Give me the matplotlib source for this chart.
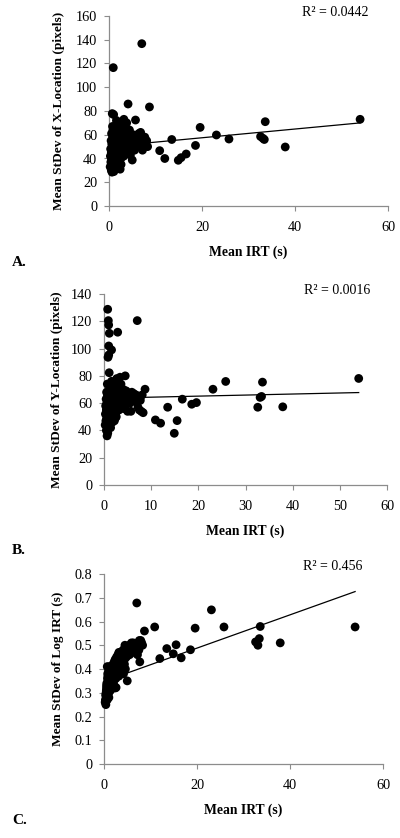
import matplotlib
matplotlib.use("Agg")
import matplotlib.pyplot as plt
import numpy as np

plt.rcParams['font.family'] = ['Liberation Serif', 'DejaVu Serif']

# ---- data ----
mean_irt = [
    0.25, 0.30, 0.35, 0.40, 0.45, 0.50, 0.50, 0.55, 0.60, 0.60,
    0.65, 0.70, 0.70, 0.75, 0.78, 0.80, 0.80, 0.85, 0.85, 0.92,
    0.95, 0.99, 1.00, 1.00, 1.05, 1.10, 1.13, 1.15, 1.20, 1.20,
    1.25, 1.30, 1.35, 1.40, 1.45, 1.50, 1.55, 1.60, 1.60, 1.65,
    1.70, 1.75, 1.80, 1.85, 1.90, 1.95, 2.00, 2.05, 2.10, 2.20,
    2.25, 2.30, 2.40, 2.40, 2.50, 2.55, 2.60, 2.70, 2.80, 2.90,
    3.00, 3.10, 3.20, 3.20, 3.30, 3.40, 3.50, 3.60, 3.70, 3.80,
    3.90, 4.00, 4.10, 4.20, 4.30, 4.40, 4.50, 4.60, 4.80, 5.00,
    5.20, 5.40, 5.70, 5.90, 6.10, 6.40, 6.70, 7.05, 7.20, 7.50,
    7.70, 7.90, 8.10, 8.30, 0.55, 1.05, 1.60, 2.60, 3.00, 4.40,
    5.50, 6.30, 6.80, 7.60, 3.60, 4.70, 2.20, 1.40,
    8.7, 10.9, 12.0, 13.5, 14.9, 15.5, 16.6, 18.6, 19.6, 23.1,
    25.8, 32.6, 33.1, 33.4, 33.6, 37.9, 54.0,
]
sd_x_location = [
    33, 42, 48, 37, 55, 30, 45, 61, 40, 52,
    28.5, 77.8, 36, 67, 47, 58, 31, 43, 64, 116.5,
    50, 60, 35, 77, 44, 55, 62, 39, 48, 66,
    53, 41, 58, 33, 46, 63, 51, 37, 56, 44,
    60, 34, 49, 57, 42, 65, 52, 38, 47, 61,
    45, 56, 31, 68, 50, 40, 59, 63, 47, 54,
    62, 48, 73, 42, 56, 66, 51, 60, 44, 70,
    53, 57, 85.9, 46, 63, 49, 58, 43, 55, 38.7,
    60, 52, 72.4, 57, 54, 61, 50, 136.7, 47, 56,
    58, 53, 55, 50, 39, 29, 72, 35, 67, 64,
    47, 58, 62, 52, 53, 50, 70, 67,
    83.4, 46.6, 40.0, 56.0, 38.5, 40.7, 43.8, 51.0, 66.2, 59.8,
    56.4, 58.5, 57.0, 56.0, 71.0, 49.7, 73.0,
]
sd_y_location = [
    44, 52, 58, 47, 63, 40, 55, 68, 50, 60,
    36, 74, 45, 66, 128.8, 65, 38, 56, 93.6, 120.5,
    58, 117.3, 101.9, 95.3, 52, 82.3, 111.2, 48, 61, 70,
    64, 50, 67, 42, 57, 72, 60, 99, 54, 66,
    62, 46, 58, 70, 55, 68, 63, 51, 59, 73,
    61, 66, 49, 75, 57, 53, 64, 78, 60, 112,
    67, 59, 72, 55, 63, 79, 61, 69, 57, 66,
    64, 60, 70, 56, 67, 62, 80, 59, 65, 54,
    63, 66, 54, 68, 65, 63, 61, 120.5, 57, 55,
    62, 54, 66, 53, 48, 43, 76, 50, 71, 68,
    60, 67, 66, 63, 74, 69, 47, 55,
    70.2, 47.7, 45.3, 57.0, 37.9, 47.2, 62.9, 59.2, 60.4, 70.2,
    75.9, 57.0, 64.2, 64.9, 75.4, 57.3, 78.1,
]
sd_log_irt = [
    0.26, 0.27, 0.29, 0.25, 0.30, 0.28, 0.31, 0.33, 0.29, 0.34,
    0.30, 0.41, 0.27, 0.36, 0.31, 0.38, 0.29, 0.33, 0.37, 0.35,
    0.36, 0.32, 0.39, 0.34, 0.30, 0.41, 0.37, 0.31, 0.35, 0.40,
    0.33, 0.36, 0.38, 0.31, 0.34, 0.40, 0.37, 0.35, 0.39, 0.32,
    0.38, 0.33, 0.36, 0.41, 0.35, 0.42, 0.39, 0.34, 0.37, 0.43,
    0.38, 0.41, 0.32, 0.44, 0.40, 0.36, 0.43, 0.45, 0.39, 0.42,
    0.44, 0.39, 0.47, 0.37, 0.42, 0.46, 0.40, 0.45, 0.38, 0.47,
    0.43, 0.41, 0.48, 0.38, 0.46, 0.42, 0.50, 0.40, 0.45, 0.35,
    0.47, 0.50, 0.49, 0.51, 0.47, 0.49, 0.50, 0.678, 0.46, 0.48,
    0.43, 0.52, 0.51, 0.50, 0.32, 0.28, 0.41, 0.322, 0.46, 0.44,
    0.46, 0.51, 0.47, 0.52, 0.43, 0.47, 0.40, 0.37,
    0.560, 0.577, 0.444, 0.486, 0.464, 0.502, 0.447, 0.481, 0.572, 0.649,
    0.577, 0.514, 0.500, 0.528, 0.579, 0.510, 0.577,
]

# linear trendlines (slope, intercept) and R² labels
trend_x = (0.368, 50.1)
trend_y = (0.077, 63.6)
trend_log = (0.0070, 0.348)
r2_labels = ["R\u00b2 = 0.0442", "R\u00b2 = 0.0016", "R\u00b2 = 0.456"]

y_titles = ["Mean StDev of X-Location (pixels)",
            "Mean StDev of Y-Location (pixels)",
            "Mean StDev of Log IRT (s)"]
x_title = "Mean IRT (s)"
panel_labels = ["A.", "B.", "C."]
y_ticks = [np.arange(0, 161, 20), np.arange(0, 141, 20), np.round(np.arange(0, 0.81, 0.1), 1)]
x_ticks = [[0, 20, 40, 60], [0, 10, 20, 30, 40, 50, 60], [0, 20, 40, 60]]

# ---- figure ----
W, H = 400, 838
fig = plt.figure(figsize=(W / 100, H / 100), dpi=100)

# axes boxes in pixels: left, right, top, bottom
boxes = [(109, 388, 16, 206), (104, 387, 294, 485), (104, 383, 574, 764)]
ylabel_x = [59, 57, 58.5]
r2_pos = [(368, 12), (370, 290), (362, 567)]
panel_y = [263, 550, 820]
series = [sd_x_location, sd_y_location, sd_log_irt]
trends = [trend_x, trend_y, trend_log]
grey = '#8c8c8c'

x = np.array(mean_irt)
for i in range(3):
    l, r, t, b = boxes[i]
    ax = fig.add_axes([l / W, 1 - b / H, (r - l) / W, (b - t) / H])
    y = np.array(series[i])
    ax.scatter(x, y, s=40, color='black', edgecolors='none', zorder=3, clip_on=False)
    slope, icpt = trends[i]
    xs = np.array([x.min(), x.max()])
    ax.plot(xs, slope * xs + icpt, color='black', lw=0.9, zorder=2)

    ax.set_xlim(0, 60)
    yt = y_ticks[i]
    ax.set_ylim(yt[0], yt[-1])
    ax.set_yticks(yt)
    if i == 2:
        ax.set_yticklabels(["0"] + [f"{v:.1f}" for v in yt[1:]])
    ax.set_xticks(x_ticks[i])
    for s in ['top', 'right']:
        ax.spines[s].set_visible(False)
    for s in ['left', 'bottom']:
        ax.spines[s].set_color(grey)
        ax.spines[s].set_linewidth(0.9)
    ax.tick_params(axis='both', direction='out', length=3.5, width=0.8, color=grey,
                   labelsize=10.3, labelcolor='black', pad=5)
    ax.tick_params(axis='x', pad=7)

    ax.set_ylabel(y_titles[i], fontsize=9.6, fontweight='bold')
    ax.yaxis.set_label_coords((ylabel_x[i] - l) / (r - l), 0.5)
    ax.yaxis.label.set_va('center')
    ax.set_xlabel(x_title, fontsize=9.8, fontweight='bold')
    ax.xaxis.set_label_coords(0.5, -(46) / (b - t))
    ax.xaxis.label.set_va('center')

    rx, ry = r2_pos[i]
    fig.text(rx / W, 1 - ry / H, r2_labels[i], ha='right', va='center', fontsize=10)
    fig.text(12 / W, 1 - panel_y[i] / H, panel_labels[i], ha='left', va='center',
             fontsize=11, fontweight='bold')

fig.savefig('out.png', dpi=100)
